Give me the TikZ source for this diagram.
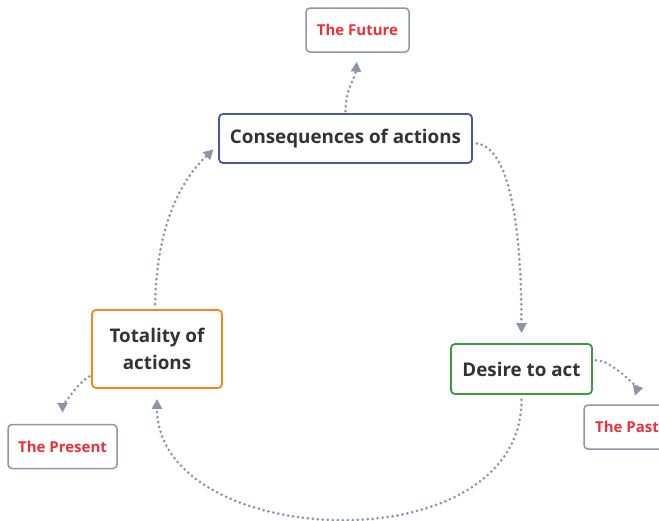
\documentclass[tikz,border=0pt]{standalone}
\usepackage{fontspec}
\setmainfont{Open Sans}
\usetikzlibrary{arrows.meta}
\definecolor{darktext}{HTML}{333333}
\definecolor{timered}{HTML}{E8323C}
\definecolor{timegray}{HTML}{8E96A8}
\definecolor{linkgray}{HTML}{8C95A8}
\definecolor{consblue}{HTML}{4B55A8}
\definecolor{totorange}{HTML}{F7851E}
\definecolor{desgreen}{HTML}{3A9A3F}
\begin{document}
\begin{tikzpicture}[x=1pt,y=-1pt,
	main node/.style={draw,rounded corners=4pt,line width=1.8pt,fill=white,inner sep=0pt,align=center,text=darktext,font=\bfseries\fontsize{18.8}{27}\selectfont},
	time node/.style={draw=timegray,rounded corners=4pt,line width=1.5pt,fill=white,inner sep=0pt,text=timered,font=\bfseries\fontsize{15}{18}\selectfont,minimum height=44pt},
	link/.style={draw=linkgray,line width=3pt,dash pattern=on 0pt off 5pt,line cap=round,-{Triangle[length=10pt,width=10pt,fill=linkgray]}}]
	\useasboundingbox (0,0) rectangle (659,520);
	\node[main node,draw=consblue,minimum width=253pt,minimum height=49pt] at (345.5,138.5) (cons) {Consequences of actions};
	\node[main node,draw=totorange,minimum width=130pt,minimum height=78pt] at (157,349) (tot) {Totality of\\actions};
	\node[main node,draw=desgreen,minimum width=141pt,minimum height=50pt] at (521.5,369) (des) {Desire to act};
	\node[time node,minimum width=103pt] at (357.5,30) (future) {The Future};
	\node[time node,minimum width=109pt] at (62.5,446.5) (present) {The Present};
	\node[time node,minimum width=86pt] at (627,427) (past) {The Past};
	
	
	\draw[link,shorten <=2pt,shorten >=9pt] (cons.north) .. controls +(0,-25) and +(-2,25) .. (future.south);
	\draw[link,shorten <=4pt,shorten >=10pt] (cons.-2) .. controls +(40,5) and +(0,-100) .. (des.north);
	\draw[link,shorten <=3pt,shorten >=9pt] (des.7) .. controls +(20,0) and +(5,-15) .. ([xshift=5pt]past.north);
	\draw[link,shorten <=5pt,shorten >=10pt] (des.south) .. controls +(0,172) and +(0,162) .. (tot.south);
	\draw[link,shorten <=5pt,shorten >=6pt] ([xshift=-2pt]tot.north) .. controls +(2,-95) and +(-30,28) .. (cons.183);
	\draw[link,shorten <=2pt,shorten >=11pt] (tot.202) .. controls +(-15,8) and +(0,-15) .. (present.north);
	
\end{tikzpicture}
\end{document}
